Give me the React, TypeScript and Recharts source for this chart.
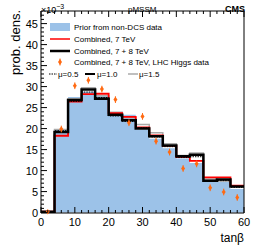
import {
  ComposedChart,
  Area,
  Line,
  Scatter,
  ErrorBar,
  XAxis,
  YAxis,
} from "recharts";

const FONT = "'Liberation Sans', Arial, sans-serif";

// bin low edges (tan beta), bins are 4 wide
const binEdges = [0, 4, 8, 12, 16, 20, 24, 28, 32, 36, 40, 44, 48, 52, 56];
const binCenters = [2, 6, 10, 14, 18, 22, 26, 30, 34, 38, 42, 46, 50, 54, 58];

// values are in units of 1e-3
const prior = [0, 19.9, 27.5, 28.8, 27.9, 23.9, 23.3, 19.8, 17.6, 15.3, 12.9, 11.8, 7.9, 7.3, 5.6];
const comb7 = [0.2, 18.3, 26.4, 28.2, 28.3, 23.7, 22.8, 20.3, 18.4, 15.9, 13.2, 12.3, 8.4, 8.4, 6.4];
const comb78 = [0.2, 19.2, 26.8, 29.3, 27.1, 23.3, 22.0, 20.0, 18.2, 16.0, 13.4, 13.8, 7.6, 7.9, 6.2];
const mu05 = [0.2, 19.5, 26.5, 28.7, 27.4, 23.0, 21.7, 20.2, 18.0, 15.7, 13.1, 13.3, 7.5, 7.6, 6.0];
const mu15 = [0.2, 19.8, 27.1, 29.7, 27.8, 23.9, 22.6, 21.0, 19.0, 16.4, 13.6, 14.2, 8.0, 7.5, 6.4];
const higgs = [0.2, 19.9, 30.2, 31.5, 29.4, 26.9, 21.4, 22.9, 17.0, 14.4, 10.5, 11.6, 5.9, 4.9, 3.6];
const higgsErr = [0.3, 0.8, 0.8, 0.8, 0.8, 0.8, 0.8, 0.8, 0.8, 0.8, 0.8, 0.8, 0.8, 0.8, 0.8];

const xTicks = Array.from({ length: 31 }, (_, i) => i * 2);
const yTicks = Array.from({ length: 48 }, (_, i) => i);

const last = binEdges.length - 1;
const histData = [
  ...binEdges.map((x, i) => ({
    x,
    prior: prior[i],
    comb7: comb7[i],
    comb78: comb78[i],
    mu05: mu05[i],
    mu15: mu15[i],
  })),
  {
    x: 60,
    prior: prior[last],
    comb7: comb7[last],
    comb78: comb78[last],
    mu05: mu05[last],
    mu15: mu15[last],
  },
];

const higgsData = binCenters.map((x, i) => ({ x, y: higgs[i], err: higgsErr[i] }));

const BLUE = "#9cc2e8";
const ORANGE = "#ff6a13";

function BottomTick(props: any) {
  const { x, y, payload } = props;
  const major = payload.value % 10 === 0;
  return (
    <g>
      <line x1={x} x2={x} y1={y} y2={y - (major ? 6 : 3)} stroke="#000" />
      {major && (
        <text x={x} y={y + 13} textAnchor="middle" fontSize={11} fontFamily={FONT} fill="#000">
          {payload.value}
        </text>
      )}
    </g>
  );
}

function TopTick(props: any) {
  const { x, y, payload } = props;
  const major = payload.value % 10 === 0;
  return <line x1={x} x2={x} y1={y} y2={y + (major ? 6 : 3)} stroke="#000" />;
}

function LeftTick(props: any) {
  const { x, y, payload } = props;
  const major = payload.value % 5 === 0;
  return (
    <g>
      <line x1={x} x2={x + (major ? 6 : 3)} y1={y} y2={y} stroke="#000" />
      {major && (
        <text x={x - 3} y={y + 4} textAnchor="end" fontSize={11} fontFamily={FONT} fill="#000">
          {payload.value}
        </text>
      )}
    </g>
  );
}

function RightTick(props: any) {
  const { x, y, payload } = props;
  const major = payload.value % 5 === 0;
  return <line x1={x} x2={x - (major ? 6 : 3)} y1={y} y2={y} stroke="#000" />;
}

function DiamondDot(props: any) {
  const { cx, cy } = props;
  return (
    <polygon
      points={`${cx},${cy - 2.8} ${cx + 2},${cy} ${cx},${cy + 2.8} ${cx - 2},${cy}`}
      fill={ORANGE}
    />
  );
}

// legend and free text drawn in an svg laid over the chart
function Overlay() {
  const t = { fontSize: 8, fontFamily: FONT, fill: "#000" };
  return (
    <svg
      width={258}
      height={247}
      style={{ position: "absolute", left: 0, top: 0, pointerEvents: "none" }}
    >
      <rect x={50} y={23} width={20} height={8} fill={BLUE} />
      <text x={74} y={30} {...t}>Prior from non-DCS data</text>
      <line x1={50} x2={70} y1={39} y2={39} stroke="#ff0000" strokeWidth={1.5} />
      <text x={74} y={42} {...t}>Combined, 7 TeV</text>
      <line x1={50} x2={70} y1={51} y2={51} stroke="#000" strokeWidth={2.5} />
      <text x={74} y={54} {...t}>Combined, 7 + 8 TeV</text>
      <line x1={60} x2={60} y1={58.5} y2={65.5} stroke={ORANGE} />
      <polygon points="60,59 62,62 60,65 58,62" fill={ORANGE} />
      <text x={74} y={65} {...t}>Combined, 7 + 8 TeV, LHC Higgs data</text>
      <line x1={49} x2={57} y1={74} y2={74} stroke="#000" strokeDasharray="1.5 1" />
      <text x={58} y={77} {...t}>μ=0.5</text>
      <line x1={85} x2={95} y1={74} y2={74} stroke="#000" strokeWidth={2} />
      <text x={97} y={77} {...t}>μ=1.0</text>
      <line x1={128} x2={138} y1={74} y2={74} stroke="#aaa" strokeWidth={1.5} />
      <text x={139} y={77} {...t}>μ=1.5</text>

      <g fontFamily={FONT} fill="#000">
        <text x={41} y={13} fontSize={9}>
          ×10<tspan dy={-4} fontSize={7}>−3</tspan>
        </text>
        <text x={128} y={12} fontSize={8}>pMSSM</text>
        <text x={245} y={12} fontSize={9} fontWeight="bold" textAnchor="end">CMS</text>
        <text x={20} y={10} fontSize={13} textAnchor="end" transform="rotate(-90 20 10)">
          prob. dens.
        </text>
        <text x={244} y={242} fontSize={12} textAnchor="end">tanβ</text>
      </g>
    </svg>
  );
}

export default function App() {
  return (
    <div style={{ position: "absolute", left: 0, top: 0, width: 258, height: 247, background: "#fff" }}>
      <ComposedChart
        width={258}
        height={247}
        data={histData}
        margin={{ top: 0, right: 0, bottom: 0, left: 0 }}
      >
        <XAxis
          xAxisId="b"
          dataKey="x"
          type="number"
          orientation="bottom"
          domain={[0, 60]}
          ticks={xTicks}
          interval={0}
          height={34}
          tickSize={0}
          tickMargin={0}
          tickLine={false}
          tick={<BottomTick />}
          axisLine={{ stroke: "#000" }}
        />
        <XAxis
          xAxisId="t"
          dataKey="x"
          type="number"
          orientation="top"
          domain={[0, 60]}
          ticks={xTicks}
          interval={0}
          height={11}
          tickSize={0}
          tickMargin={0}
          tickLine={false}
          tick={<TopTick />}
          axisLine={{ stroke: "#000" }}
        />
        <YAxis
          yAxisId="l"
          type="number"
          orientation="left"
          domain={[0, 48]}
          ticks={yTicks}
          interval={0}
          width={41}
          tickSize={0}
          tickMargin={0}
          tickLine={false}
          tick={<LeftTick />}
          axisLine={{ stroke: "#000" }}
        />
        <YAxis
          yAxisId="r"
          type="number"
          orientation="right"
          domain={[0, 48]}
          ticks={yTicks}
          interval={0}
          width={14}
          tickSize={0}
          tickMargin={0}
          tickLine={false}
          tick={<RightTick />}
          axisLine={{ stroke: "#000" }}
        />
        <Area
          xAxisId="b"
          yAxisId="l"
          type="stepAfter"
          dataKey="prior"
          fill={BLUE}
          fillOpacity={1}
          stroke="none"
          isAnimationActive={false}
        />
        <Line
          xAxisId="b"
          yAxisId="l"
          type="stepAfter"
          dataKey="mu15"
          stroke="#aaa"
          strokeWidth={1.5}
          dot={false}
          isAnimationActive={false}
        />
        <Line
          xAxisId="b"
          yAxisId="l"
          type="stepAfter"
          dataKey="comb7"
          stroke="#ff0000"
          strokeWidth={1.8}
          dot={false}
          isAnimationActive={false}
        />
        <Line
          xAxisId="b"
          yAxisId="l"
          type="stepAfter"
          dataKey="mu05"
          stroke="#000"
          strokeWidth={1}
          strokeDasharray="1.5 1"
          dot={false}
          isAnimationActive={false}
        />
        <Line
          xAxisId="b"
          yAxisId="l"
          type="stepAfter"
          dataKey="comb78"
          stroke="#000"
          strokeWidth={2.5}
          dot={false}
          isAnimationActive={false}
        />
        <Scatter
          xAxisId="b"
          yAxisId="l"
          data={higgsData}
          dataKey="y"
          shape={<DiamondDot />}
          isAnimationActive={false}
        >
          <ErrorBar dataKey="err" direction="y" width={0} stroke={ORANGE} strokeWidth={1} />
        </Scatter>
      </ComposedChart>
      <Overlay />
    </div>
  );
}
